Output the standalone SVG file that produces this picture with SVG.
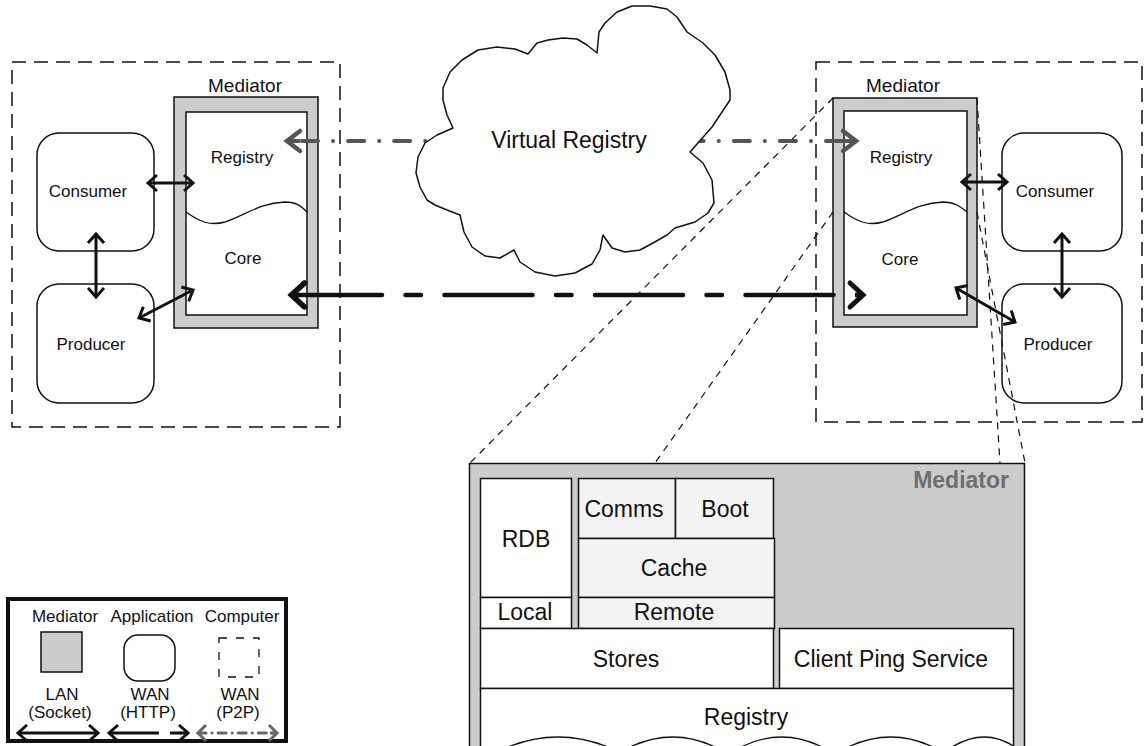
<svg xmlns="http://www.w3.org/2000/svg" width="1145" height="746" viewBox="0 0 1145 746">
  <style>
    .txt { font-family: "Liberation Sans", Arial, sans-serif; fill: #111; text-anchor: middle; }
    .t17 { font-size: 17px; }
    .t19 { font-size: 19px; }
    .t23 { font-size: 23px; }
    .computer { fill: none; stroke: #111; stroke-width: 1.5; stroke-dasharray: 14 8; }
    .app { fill: #fff; stroke: #111; stroke-width: 1.5; }
    .medOuter { fill: #cccccc; stroke: #111; stroke-width: 1.5; }
    .medInner { fill: #fff; stroke: #111; stroke-width: 1.5; }
    .wave { fill: none; stroke: #111; stroke-width: 1.3; }
    .lens { fill: none; stroke: #111; stroke-width: 1.2; stroke-dasharray: 7 6; }
    .lan { fill: none; stroke: #111; stroke-width: 3; marker-start: url(#headS); marker-end: url(#headS); }
    .block { stroke: #111; stroke-width: 1.5; }
    .w { fill: #fff; }
    .lg { fill: #f3f3f3; }
  </style>
  <defs>
    <marker id="headS" markerUnits="userSpaceOnUse" orient="auto-start-reverse" overflow="visible" refX="0" refY="0" markerWidth="20" markerHeight="20">
      <path d="M-9,-8 L0,0 L-9,8" fill="none" stroke="#111" stroke-width="3"/>
    </marker>
    <marker id="headBig" markerUnits="userSpaceOnUse" orient="auto-start-reverse" overflow="visible" refX="0" refY="0" markerWidth="30" markerHeight="30">
      <path d="M-13,-12 L0,0 L-13,12" fill="none" stroke="#111" stroke-width="5" stroke-linecap="round"/>
    </marker>
    <marker id="headGray" markerUnits="userSpaceOnUse" orient="auto-start-reverse" overflow="visible" refX="0" refY="0" markerWidth="30" markerHeight="30">
      <path d="M-13,-10 L0,0 L-13,10" fill="none" stroke="#555" stroke-width="4.5" stroke-linecap="round"/>
    </marker>
    <marker id="headGraySm" markerUnits="userSpaceOnUse" orient="auto-start-reverse" overflow="visible" refX="0" refY="0" markerWidth="20" markerHeight="20">
      <path d="M-8,-8 L0,0 L-8,8" fill="none" stroke="#666" stroke-width="3"/>
    </marker>
  </defs>

  <!-- left computer -->
  <g id="computer-left">
    <rect class="computer" x="12" y="62" width="328" height="365"/>
  </g>
  <!-- right computer -->
  <g id="computer-right">
    <rect class="computer" x="816" y="62" width="326" height="360"/>
  </g>

  <!-- left mediator -->
  <g id="mediator-left">
    <rect class="medOuter" x="174" y="97" width="144" height="231"/>
    <rect class="medInner" x="186" y="112" width="121" height="203"/>
    <path class="wave" d="M186,212 C200,222 210,226 225,222 C245,215 260,203 285,202 C298,202 303,208 307,212"/>
    <text class="txt t19" x="245" y="92">Mediator</text>
    <text class="txt t17" x="242" y="163">Registry</text>
    <text class="txt t17" x="243" y="264">Core</text>
  </g>

  <!-- right mediator -->
  <g id="mediator-right">
    <rect class="medOuter" x="833" y="98" width="144" height="229"/>
    <rect class="medInner" x="844" y="111" width="123" height="204"/>
    <path class="wave" d="M844,212 C858,222 868,226 883,222 C903,215 918,203 943,202 C956,202 962,208 967,212"/>
    <text class="txt t19" x="903" y="92">Mediator</text>
    <text class="txt t17" x="901" y="163">Registry</text>
    <text class="txt t17" x="900" y="265">Core</text>
  </g>

  <!-- applications -->
  <g id="consumer-left">
    <rect class="app" x="37" y="133" width="117" height="118" rx="22"/>
    <text class="txt t17" x="88" y="197">Consumer</text>
  </g>
  <g id="producer-left">
    <rect class="app" x="37" y="284" width="117" height="119" rx="22"/>
    <text class="txt t17" x="91" y="350">Producer</text>
  </g>
  <g id="consumer-right">
    <rect class="app" x="1002" y="133" width="120" height="118" rx="22"/>
    <text class="txt t17" x="1055" y="197">Consumer</text>
  </g>
  <g id="producer-right">
    <rect class="app" x="1002" y="284" width="120" height="119" rx="22"/>
    <text class="txt t17" x="1058" y="350">Producer</text>
  </g>

  <!-- zoom lens lines from the right mediator to its detail view -->
  <g id="lens">
    <line class="lens" x1="833" y1="98" x2="470" y2="463"/>
    <line class="lens" x1="833" y1="212" x2="655" y2="463"/>
    <line class="lens" x1="977" y1="98" x2="1000" y2="463"/>
    <line class="lens" x1="977" y1="212" x2="1025" y2="463"/>
  </g>

  <!-- connectors -->
  <g id="connectors">
    <!-- local links -->
    <line class="lan" x1="148" y1="183" x2="193" y2="183"/>
    <line class="lan" x1="96" y1="234" x2="96" y2="297"/>
    <line class="lan" x1="139" y1="318" x2="193" y2="290"/>
    <line class="lan" x1="962" y1="182" x2="1007" y2="182"/>
    <line class="lan" x1="1062" y1="234" x2="1062" y2="297"/>
    <line class="lan" x1="956" y1="288" x2="1015" y2="322"/>
    <!-- WAN HTTP between cores -->
    <path d="M294,295 H861" fill="none" stroke="#111" stroke-width="4.5" stroke-linecap="round" stroke-dasharray="88 23.5 15.5 23.5"/>
    <path d="M292,295 H296 M857,295 H861" fill="none" stroke="#111" stroke-width="4.5" marker-start="url(#headBig)"/>
    <path d="M300,295 H291" fill="none" stroke="#111" stroke-width="4.5" marker-end="url(#headBig)"/>
    <path d="M855,295 H863" fill="none" stroke="#111" stroke-width="4.5" marker-end="url(#headBig)"/>
    <!-- WAN P2P between registries -->
    <path d="M302,141 H450" fill="none" stroke="#555" stroke-width="4" stroke-linecap="round" stroke-dasharray="16 15 0.1 15"/>
    <path d="M842,141 H690" fill="none" stroke="#555" stroke-width="4" stroke-linecap="round" stroke-dasharray="16 15 0.1 15"/>
    <path d="M300,141 H287" fill="none" stroke="#555" stroke-width="4" marker-end="url(#headGray)"/>
    <path d="M842,141 H856" fill="none" stroke="#555" stroke-width="4" marker-end="url(#headGray)"/>
  </g>

  <!-- cloud -->
  <g id="virtual-registry">
    <path d="M453,128 L447,115 L443,100 L443,88 L450,72 L462,60 L478,50 L497,47 L515,49 L528,54 L537,43 L548,40 L563,38 L577,39 L587,45 L597,53 L599,32 L605,23 L617,12 L632,6 L650,6 L667,9 L677,17 L687,32 L703,43 L715,55 L725,72 L730,90 L730,100 L720,115 L712,127 L690,152 L703,163 L712,180 L714,203 L708,213 L695,222 L675,228 L667,235 L653,243 L640,250 L625,252 L612,248 L603,235 L600,250 L592,264 L575,273 L555,276 L535,272 L520,262 L514,250 L500,258 L485,256 L472,247 L464,232 L460,215 L447,210 L435,205 L427,200 L420,187 L416,173 L418,157 L425,143 L437,135 Z" fill="#fff" stroke="#111" stroke-width="1.5" stroke-linejoin="round"/>
    <text class="txt t23" x="569" y="148">Virtual Registry</text>
  </g>

  <!-- detailed mediator -->
  <g id="mediator-detail">
    <rect class="medOuter" x="469.5" y="463.5" width="555" height="300"/>
    <text x="1009" y="488" font-family="Liberation Sans, Arial, sans-serif" font-size="23" font-weight="bold" fill="#6e6e6e" text-anchor="end">Mediator</text>
  </g>
  <g id="rdb">
    <rect class="block w" x="480.5" y="478.5" width="91" height="119"/>
    <text class="txt t23" x="526" y="547">RDB</text>
  </g>
  <g id="local">
    <rect class="block w" x="480.5" y="597.5" width="91" height="31"/>
    <text class="txt t23" x="525" y="620">Local</text>
  </g>
  <g id="comms">
    <rect class="block lg" x="578.5" y="478.5" width="97" height="60"/>
    <text class="txt t23" x="624" y="517">Comms</text>
  </g>
  <g id="boot">
    <rect class="block lg" x="675.5" y="478.5" width="98" height="60"/>
    <text class="txt t23" x="725" y="517">Boot</text>
  </g>
  <g id="cache">
    <rect class="block lg" x="578.5" y="538.5" width="196" height="59"/>
    <text class="txt t23" x="674" y="576">Cache</text>
  </g>
  <g id="remote">
    <rect class="block lg" x="578.5" y="597.5" width="196" height="31"/>
    <text class="txt t23" x="674" y="620">Remote</text>
  </g>
  <g id="stores">
    <rect class="block w" x="480.5" y="628.5" width="293" height="60"/>
    <text class="txt t23" x="626" y="667">Stores</text>
  </g>
  <g id="client-ping">
    <rect class="block w" x="779.5" y="628.5" width="234" height="60"/>
    <text class="txt t23" x="891" y="667">Client Ping Service</text>
  </g>
  <g id="registry-detail">
    <rect class="block w" x="480.5" y="688.5" width="533" height="80"/>
    <path class="wave" d="M508,747 Q558,727 608,747 M630,747 Q673,727 715,747 M741,747 Q782,727 822,747 M848,747 Q891,727 933,747 M952,747 Q985,727 1015,747"/>
    <text class="txt t23" x="746" y="725">Registry</text>
  </g>

  <!-- legend -->
  <g id="legend">
    <rect x="8" y="599" width="278" height="142" fill="#fff" stroke="#111" stroke-width="4"/>
    <text class="txt t17" x="65" y="622">Mediator</text>
    <text class="txt t17" x="152" y="622">Application</text>
    <text class="txt t17" x="242" y="622">Computer</text>
    <rect x="41" y="632" width="41" height="40" fill="#cccccc" stroke="#111" stroke-width="1.5"/>
    <rect x="124" y="635" width="51" height="46" rx="14" fill="#fff" stroke="#111" stroke-width="1.5"/>
    <rect x="219" y="638" width="40" height="39" fill="none" stroke="#111" stroke-width="1.3" stroke-dasharray="8 9"/>
    <text class="txt t17" x="62" y="700">LAN</text>
    <text class="txt t17" x="60" y="718">(Socket)</text>
    <text class="txt t17" x="150" y="700">WAN</text>
    <text class="txt t17" x="148" y="718">(HTTP)</text>
    <text class="txt t17" x="240" y="700">WAN</text>
    <text class="txt t17" x="238" y="718">(P2P)</text>
    <line class="lan" x1="18" y1="733" x2="98" y2="733"/>
    <path d="M109,733 H187" fill="none" stroke="#111" stroke-width="3" stroke-dasharray="50 11 12 20" marker-start="url(#headS)"/>
    <path d="M180,733 H188" fill="none" stroke="#111" stroke-width="3" marker-end="url(#headS)"/>
    <path d="M198,733 H276" fill="none" stroke="#666" stroke-width="3" stroke-linecap="round" stroke-dasharray="8 6 0.1 6" marker-start="url(#headGraySm)"/>
    <path d="M270,733 H277" fill="none" stroke="#666" stroke-width="3" marker-end="url(#headGraySm)"/>
  </g>
</svg>
